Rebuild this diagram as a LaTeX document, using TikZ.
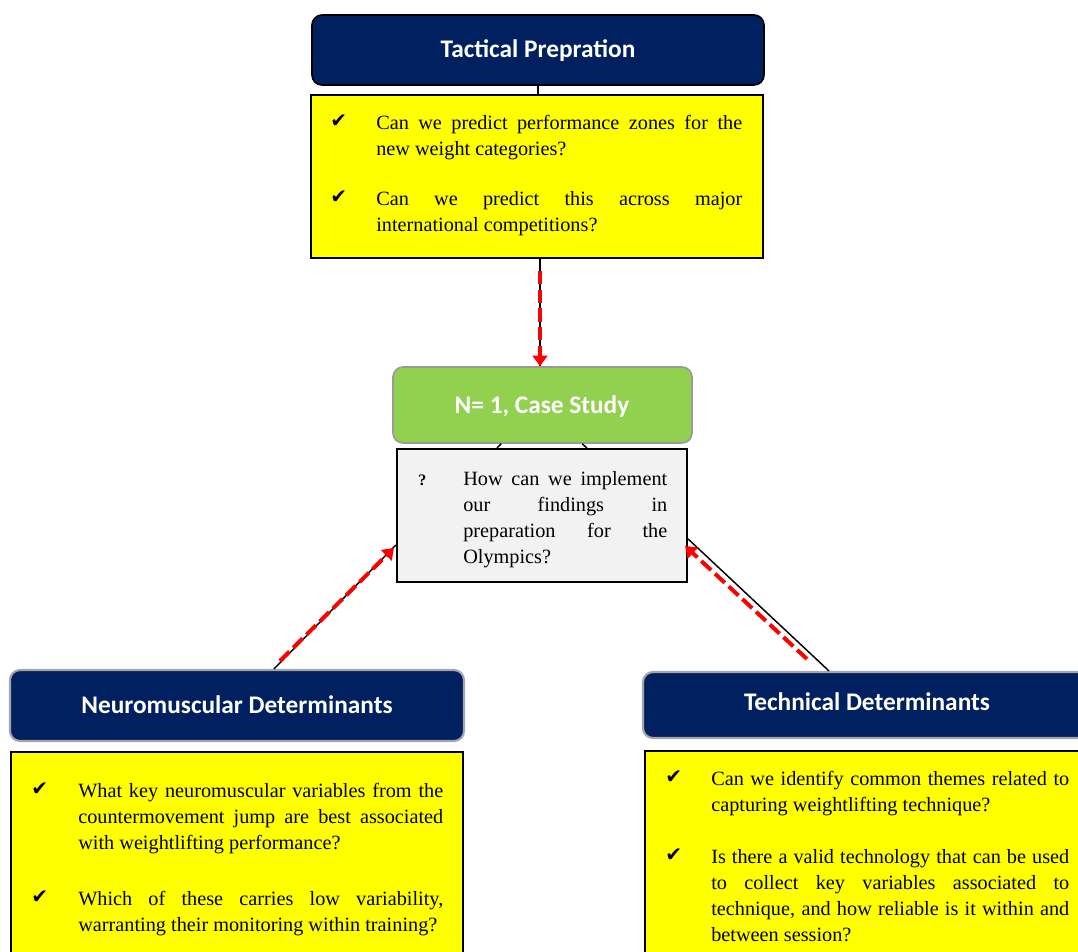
\documentclass[tikz,border=0pt]{standalone}
\usepackage{fontspec}
\setmainfont{Liberation Serif}
\newfontfamily\headfont{Carlito}
\newfontfamily\symfont{DejaVu Sans}
\usetikzlibrary{arrows.meta,calc,fit}
\definecolor{navy}{HTML}{002060}
\definecolor{qyellow}{HTML}{FFFF00}
\definecolor{casegreen}{HTML}{92D050}
\definecolor{qgray}{HTML}{F2F2F2}
\definecolor{flowred}{HTML}{FF0000}
\begin{document}
\begin{tikzpicture}[x=0.75pt,y=-0.75pt,
  header/.style={rounded corners=7.5pt, fill=navy, inner sep=0pt},
  tacticalhead/.style={header, draw=black, line width=1.2pt},
  detailhead/.style={header, draw=black!35, line width=1.6pt},
  casehead/.style={rounded corners=7.5pt, fill=casegreen, draw=black!40, line width=1.2pt, inner sep=0pt},
  qbox/.style={fill=qyellow, draw=black, line width=1.6pt, inner sep=0pt},
  askbox/.style={fill=qgray, draw=black, line width=1.6pt, inner sep=0pt},
  title/.style={font=\headfont\bfseries\fontsize{19}{22}\selectfont, text=white, anchor=base, inner sep=0pt},
  qtext/.style={font=\fontsize{15.2}{19.5}\selectfont, align=justify, anchor=base west, inner sep=0pt},
  tick/.style={font=\symfont\fontsize{15}{15}\selectfont, anchor=base west, inner sep=0pt},
  asktick/.style={font=\bfseries\fontsize{12}{12}\selectfont, anchor=base west, inner sep=0pt},
  link/.style={draw=black, line width=1.1pt},
  flow/.style={draw=flowred, line width=3pt, dash pattern=on 10pt off 4pt,
    -{Triangle[length=8pt,width=11pt]}}
]
\useasboundingbox (0,0) rectangle (1078,951);
\clip (0,0) rectangle (1078,951);

% ---- top: tactical preparation ----
\node[tacticalhead, fit={(312,15) (764,85)}] (thead) {};
\node[title] (ttitle) at (538,57) {Tactical Prepration};
\node[qbox, fit={(311,95) (763,258)}] (tbox) {};
\node[tick] (tc1) at (330,127) {✔};
\node[qtext, text width=274.5pt] (tq1) at (376,129)
  {Can we predict performance zones for the\linebreak new weight categories?};
\node[tick] (tc2) at (330,203) {✔};
\node[qtext, text width=274.5pt] (tq2) at (376,205)
  {Can we predict this across major\linebreak international competitions?};

% ---- centre: case study ----
\node[casehead, fit={(393,367) (692,443)}] (case) {};
\node[title] (ctitle) at (542,413) {N= 1, Case Study};
\node[askbox, fit={(397,449) (687,582)}] (ask) {};
\node[asktick] (aq) at (418,485) {?};
\node[qtext, text width=153pt] (atext) at (463,485)
  {How can we implement\linebreak our findings in\linebreak preparation for the\linebreak Olympics?};

% ---- bottom left: neuromuscular determinants ----
\node[detailhead, fit={(10,670) (464,741)}] (nhead) {};
\node[title] (ntitle) at (237,713) {Neuromuscular Determinants};
\node[qbox, fit={(11,752) (463,1000)}] (nbox) {};
\node[tick] (nc1) at (31,795) {✔};
\node[qtext, text width=273.75pt] (nq1) at (78,797)
  {What key neuromuscular variables from the\linebreak countermovement jump are best associated\linebreak with weightlifting performance?};
\node[tick] (nc2) at (31,903) {✔};
\node[qtext, text width=273.75pt] (nq2) at (78,905)
  {Which of these carries low variability,\linebreak warranting their monitoring within training?};

% ---- bottom right: technical determinants ----
\node[detailhead, fit={(643,672) (1091,738)}] (chead) {};
\node[title] (chtitle) at (867,710) {Technical Determinants};
\node[qbox, fit={(645,751) (1091,1000)}] (cbox) {};
\node[tick] (cc1) at (665,783) {✔};
\node[qtext, text width=268.5pt] (cq1) at (711,785)
  {Can we identify common themes related to\linebreak capturing weightlifting technique?};
\node[tick] (cc2) at (665,861) {✔};
\node[qtext, text width=268.5pt] (cq2) at (711,863)
  {Is there a valid technology that can be used\linebreak to collect key variables associated to\linebreak technique, and how reliable is it within and\linebreak between session?};

% ---- connectors ----
\draw[link] (thead.south) -- (thead.south |- tbox.north);
\coordinate (topdrop) at ($(tbox.south)+(3,0)$);
\draw[link] (topdrop) -- (topdrop |- case.north);
\coordinate (topflow) at ($(topdrop)+(0,12)$);
\draw[flow] (topflow) -- (topdrop |- case.north);

\draw[link] ($(case.south west)+(109,0)$) -- ($(ask.north west)+(101,0)$);
\draw[link] ($(case.south west)+(190,0)$) -- ($(ask.north west)+(191,0)$);

\coordinate (nroot) at ($(nhead.north west)+(265,0)$);
\coordinate (askleft) at ($(ask.north west)+(0,97)$);
\draw[link] (nroot) -- (askleft);
\coordinate (nflow) at ($(nroot)+(6,-8)$);
\coordinate (nflowend) at ($(askleft)+(-2,3)$);
\draw[flow] (nflow) -- (nflowend);

\coordinate (croot) at ($(chead.north west)+(187,0)$);
\coordinate (askright) at ($(ask.north east)+(0,91)$);
\draw[link] (croot) -- (askright);
\coordinate (cflow) at ($(croot)+(-22,-12)$);
\coordinate (cflowend) at ($(askright)+(-3,7)$);
\draw[flow] (cflow) -- (cflowend);
\end{tikzpicture}
\end{document}
